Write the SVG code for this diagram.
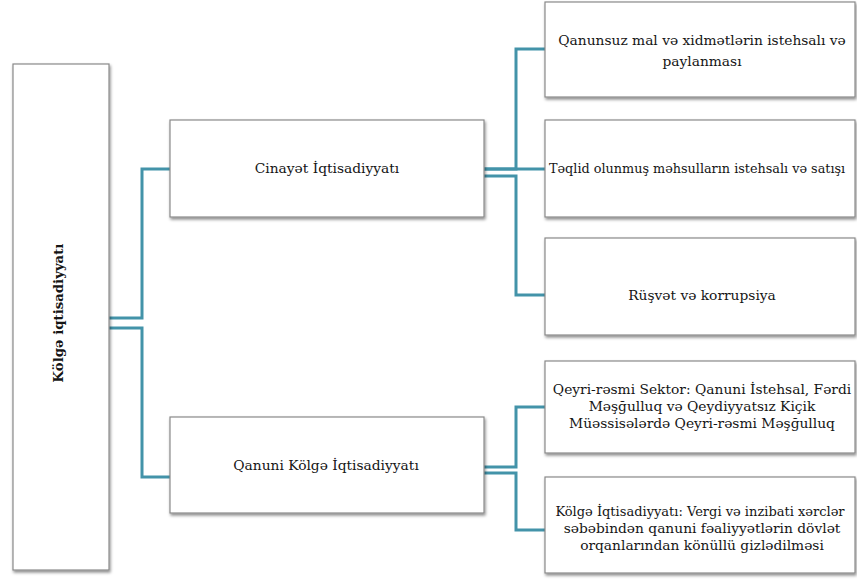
<svg xmlns="http://www.w3.org/2000/svg" width="857" height="581" viewBox="0 0 857 581">
  <defs>
    <filter id="sh" x="-5%" y="-5%" width="115%" height="120%">
      <feDropShadow dx="1" dy="2" stdDeviation="1.5" flood-color="#000" flood-opacity="0.45"/>
    </filter>
  </defs>
  <style>
    .box { fill: #fff; stroke: #8a8a8a; stroke-width: 1.2; filter: url(#sh); }
    .t { font-family: "DejaVu Serif", serif; font-size: 13.8px; fill: #151515; text-anchor: middle; }
    .conn { fill: none; stroke: #4393a9; stroke-width: 3; }
  </style>
  <rect width="857" height="581" fill="#fff"/>

  <g id="connectors">
    <polyline class="conn" points="109,318 142,318 142,169 170,169"/>
    <polyline class="conn" points="109,328 142,328 142,477 170,477"/>
    <polyline class="conn" points="484,169 516,169 516,49 545,49"/>
    <polyline class="conn" points="484,169 545,169"/>
    <polyline class="conn" points="484,176 516,176 516,295 545,295"/>
    <polyline class="conn" points="484,467 516,467 516,407 545,407"/>
    <polyline class="conn" points="484,473 516,473 516,530 545,530"/>
  </g>

  <g id="root">
    <rect class="box" x="13" y="64" width="96" height="506"/>
    <text class="t" transform="translate(63,313) rotate(-90)" font-weight="bold" style="font-size:13.3px">Kölgə iqtisadiyyatı</text>
  </g>

  <g id="cinayet">
    <rect class="box" x="170" y="120" width="314" height="97"/>
    <text class="t" x="327" y="173">Cinayət İqtisadiyyatı</text>
  </g>

  <g id="qanuni">
    <rect class="box" x="170" y="417" width="314" height="96"/>
    <text class="t" x="326" y="470">Qanuni Kölgə İqtisadiyyatı</text>
  </g>

  <g id="c1">
    <rect class="box" x="545" y="2" width="310" height="95"/>
    <text class="t" x="702" y="45">Qanunsuz mal və xidmətlərin istehsalı və</text>
    <text class="t" x="702" y="66">paylanması</text>
  </g>

  <g id="c2">
    <rect class="box" x="545" y="120" width="310" height="97"/>
    <text class="t" x="549" y="173" style="text-anchor:start;font-size:12.8px">Təqlid olunmuş məhsulların istehsalı və satışı</text>
  </g>

  <g id="c3">
    <rect class="box" x="545" y="238" width="310" height="97"/>
    <text class="t" x="702" y="300">Rüşvət və korrupsiya</text>
  </g>

  <g id="c4">
    <rect class="box" x="545" y="361" width="310" height="92"/>
    <text class="t" x="702" y="394">Qeyri-rəsmi Sektor: Qanuni İstehsal, Fərdi</text>
    <text class="t" x="702" y="411">Məşğulluq və Qeydiyyatsız Kiçik</text>
    <text class="t" x="702" y="428">Müəssisələrdə Qeyri-rəsmi Məşğulluq</text>
  </g>

  <g id="c5">
    <rect class="box" x="545" y="477" width="310" height="96"/>
    <text class="t" x="700" y="516" style="font-size:13px">Kölgə İqtisadiyyatı: Vergi və inzibati xərclər</text>
    <text class="t" x="702" y="533">səbəbindən qanuni fəaliyyətlərin dövlət</text>
    <text class="t" x="702" y="550">orqanlarından könüllü gizlədilməsi</text>
  </g>
</svg>
